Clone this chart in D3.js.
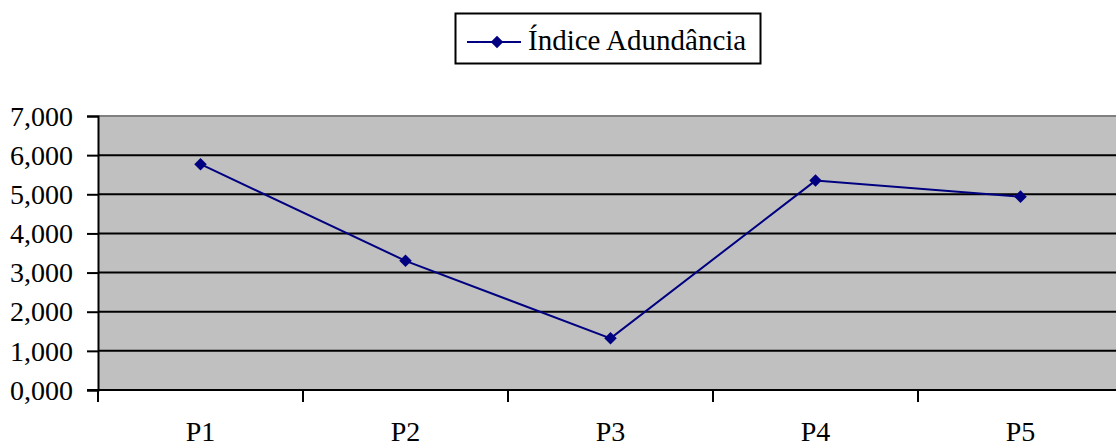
<!DOCTYPE html>
<html><head><meta charset="utf-8">
<script src="https://cdn.jsdelivr.net/npm/d3@7"></script>
<style>body{margin:0;background:#fff}svg{display:block}text{font-family:"Liberation Serif","Times New Roman",serif;fill:#000}</style>
</head><body><svg id="c" width="1116" height="448"></svg>
<script>
const categories = ["P1","P2","P3","P4","P5"];
const seriesName = "Índice Adundância";
const values = [5.77, 3.30, 1.32, 5.35, 4.94];
const yTicks = [0,1,2,3,4,5,6,7];
const yTickLabels = ["0,000","1,000","2,000","3,000","4,000","5,000","6,000","7,000"];

const svg = d3.select("#c");
const L = 98, R = 1123, T = 116, B = 390;
const x = d3.scaleBand().domain(categories).range([L, R]).padding(0);
const y = d3.scaleLinear().domain([0, 7]).range([B, T]);

// plot background
svg.append("rect").attr("x", L).attr("y", T).attr("width", R - L).attr("height", B - T).attr("fill", "#c0c0c0");
// top border gray
svg.append("line").attr("x1", L).attr("x2", R).attr("y1", T).attr("y2", T).attr("stroke", "#808080").attr("stroke-width", 2);
// gridlines
svg.append("g").selectAll("line").data(yTicks.filter(d => d > 0 && d < 7)).join("line")
  .attr("x1", L).attr("x2", R).attr("y1", d => y(d)).attr("y2", d => y(d))
  .attr("stroke", "#000").attr("stroke-width", 2);

// y axis
const yAxis = d3.axisLeft(y).tickValues(yTicks).tickSize(11).tickPadding(14)
  .tickFormat((d, i) => yTickLabels[i]);
const gy = svg.append("g").attr("transform", `translate(${L},0)`).call(yAxis);
gy.select(".domain").attr("stroke", "#000").attr("stroke-width", 2);
gy.selectAll(".tick line").attr("stroke", "#000").attr("stroke-width", 2);
gy.selectAll(".tick text").attr("font-size", 28).attr("font-family", "Liberation Serif").attr("fill", "#000").attr("dy", "0.33em");

// x axis
const xAxis = d3.axisBottom(x).tickSize(0).tickPadding(0);
const gx = svg.append("g").attr("transform", `translate(0,${B})`).call(xAxis);
gx.select(".domain").remove();
gx.append("line").attr("x1", L - 11).attr("x2", R).attr("y1", 0).attr("y2", 0).attr("stroke", "#000").attr("stroke-width", 2);
gx.selectAll(".tick text").attr("font-size", 28).attr("font-family", "Liberation Serif").attr("fill", "#000").attr("y", 51).attr("dy", 0);
// category boundary ticks
const bounds = categories.map(c => x(c)).concat([R]);
gx.append("g").selectAll("line").data(bounds).join("line")
  .attr("x1", d => d).attr("x2", d => d).attr("y1", 0).attr("y2", 12)
  .attr("stroke", "#000").attr("stroke-width", 2);

// line
const cx = d => x(d) + x.bandwidth() / 2;
const line = d3.line().x((d, i) => cx(categories[i])).y(d => y(d));
svg.append("path").datum(values).attr("d", line).attr("fill", "none").attr("stroke", "#000080").attr("stroke-width", 2);
const diamond = d3.symbol().type(d3.symbolDiamond2).size(100);
svg.append("g").selectAll("path").data(values).join("path")
  .attr("d", diamond).attr("transform", (d, i) => `translate(${cx(categories[i])},${y(d)})`)
  .attr("fill", "#000080");

// legend
const lg = svg.append("g");
lg.append("rect").attr("x", 455.5).attr("y", 13.5).attr("width", 305).attr("height", 50).attr("fill", "#fff").attr("stroke", "#000").attr("stroke-width", 2);
lg.append("line").attr("x1", 467).attr("x2", 521).attr("y1", 42).attr("y2", 42).attr("stroke", "#000080").attr("stroke-width", 2);
lg.append("path").attr("d", diamond).attr("transform", "translate(497,42)").attr("fill", "#000080");
lg.append("text").attr("x", 528).attr("y", 50).attr("font-size", 29).text(seriesName);
</script></body></html>
